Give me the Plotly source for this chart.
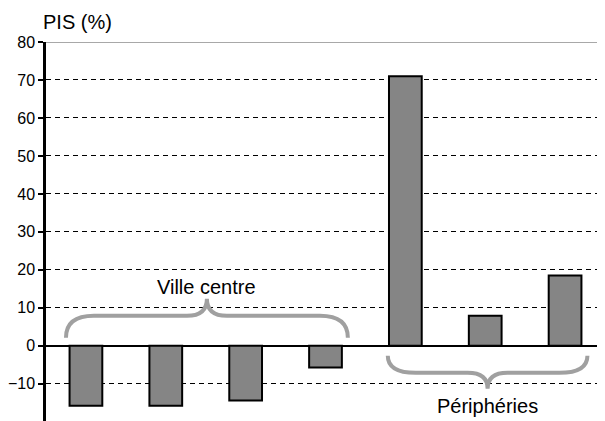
import plotly.graph_objects as go

categories = [0, 1, 2, 3, 4, 5, 6]
values = [-15.8, -15.8, -14.4, -5.7, 71.0, 7.9, 18.5]
y_ticks = [-10, 0, 10, 20, 30, 40, 50, 60, 70, 80]
group_labels = ["Ville centre", "Périphéries"]

FONT = "Liberation Sans, Arial, sans-serif"

fig = go.Figure()
fig.add_trace(go.Bar(
    x=categories, y=values, width=0.41,
    marker=dict(color="#858585", line=dict(color="black", width=2)),
    hoverinfo="skip",
))


def brace(x0, x1, y_end, y_h, y_cusp, dx_end=0.35, dx_mid=0.25):
    xm = (x0 + x1) / 2
    return (f"M {x0},{y_end} Q {x0},{y_h} {x0 + dx_end},{y_h} "
            f"L {xm - dx_mid},{y_h} Q {xm},{y_h} {xm},{y_cusp} "
            f"Q {xm},{y_h} {xm + dx_mid},{y_h} "
            f"L {x1 - dx_end},{y_h} Q {x1},{y_h} {x1},{y_end}")


brace_color = "#a0a0a0"
fig.add_shape(type="path", xref="x", yref="y",
              path=brace(-0.25, 3.28, 2.1, 7.9, 12.4),
              line=dict(color=brace_color, width=4), layer="above")
fig.add_shape(type="path", xref="x", yref="y",
              path=brace(3.78, 6.28, -2.6, -7.1, -11.3),
              line=dict(color=brace_color, width=4), layer="above")

# solid top gridline at 80
fig.add_shape(type="line", xref="paper", yref="y", x0=0, x1=1, y0=80, y1=80,
              line=dict(color="#a8a8a8", width=2), layer="above")

fig.add_annotation(x=1.51, y=15.4, xref="x", yref="y", text=group_labels[0],
                   showarrow=False, font=dict(family=FONT, size=20, color="black"))
fig.add_annotation(x=5.03, y=-15.9, xref="x", yref="y", text=group_labels[1],
                   showarrow=False, font=dict(family=FONT, size=20, color="black"))
fig.add_annotation(x=-0.009, y=1.018, xref="paper", yref="paper", text="PIS (%)",
                   showarrow=False, xanchor="left", yanchor="bottom",
                   font=dict(family=FONT, size=20, color="black"))

fig.update_layout(
    width=597, height=413,
    margin=dict(l=32, r=0, t=34, b=0),
    paper_bgcolor="white", plot_bgcolor="white",
    showlegend=False,
    font=dict(family=FONT, size=16, color="black"),
    bargap=0.5,
)
fig.update_xaxes(range=[-0.5, 6.5], showticklabels=False, showgrid=False,
                 zeroline=False, showline=False, ticks="")
fig.update_yaxes(range=[-19.8, 80], tickvals=y_ticks, ticks="outside",
                 ticklen=5, tickwidth=2, tickcolor="black",
                 showline=True, linecolor="black", linewidth=2.5,
                 showgrid=True, gridcolor="black", gridwidth=1, griddash="5px,4px",
                 zeroline=True, zerolinecolor="black", zerolinewidth=2,
                 tickfont=dict(family=FONT, size=16, color="black"))

fig.write_html("out.html")
